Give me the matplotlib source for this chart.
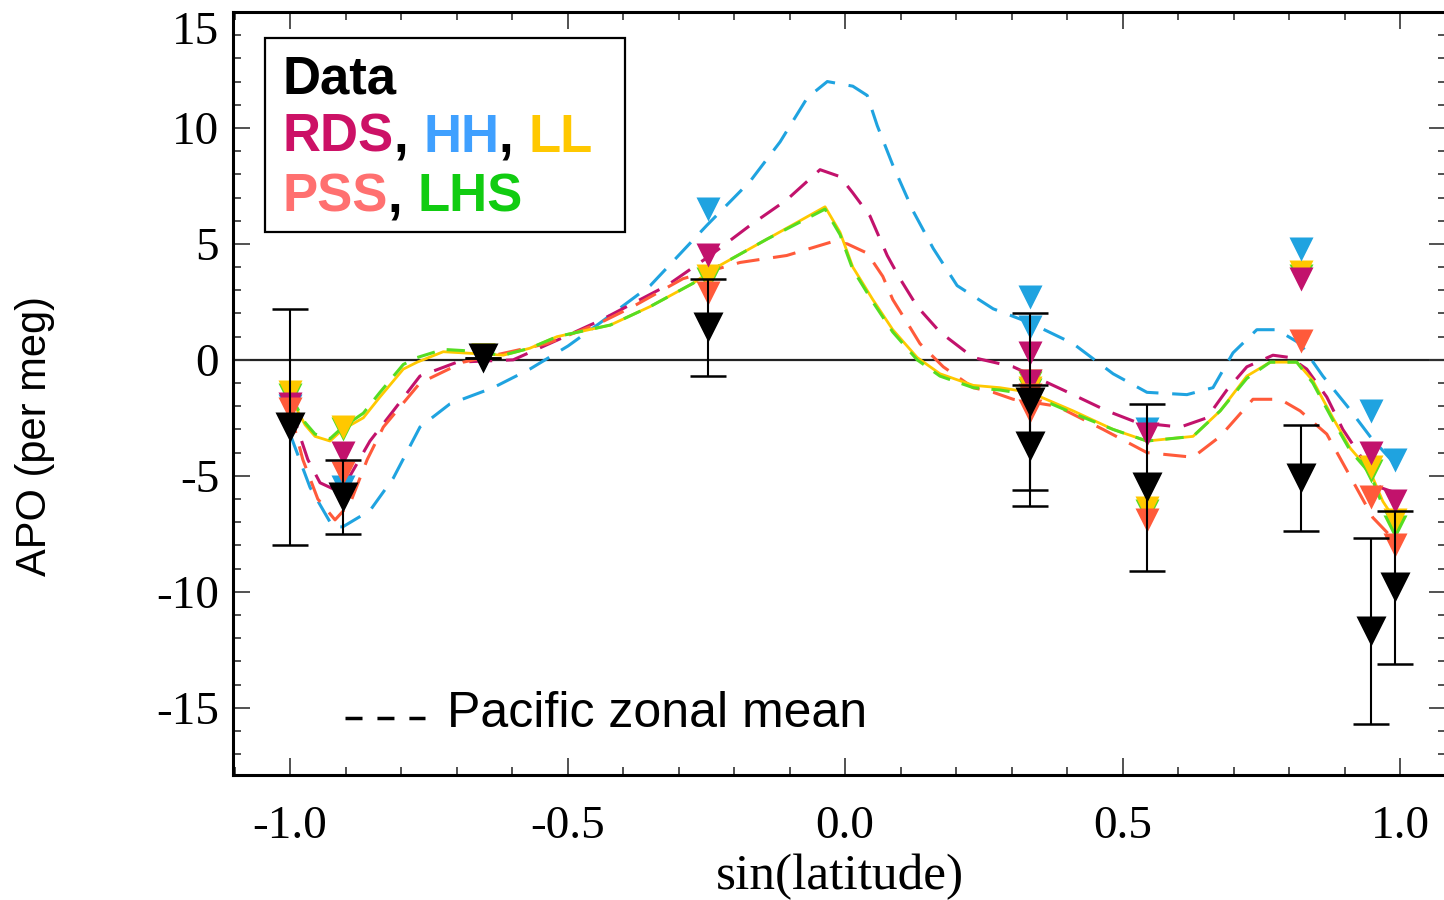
"""
APO vs sin(latitude): station data vs Pacific zonal mean of five models
"""
import numpy as np
import matplotlib; matplotlib.use('Agg')
import matplotlib.pyplot as plt
from matplotlib.ticker import MultipleLocator
from matplotlib.patches import Rectangle

plt.rcParams['axes.unicode_minus'] = False
SERIF = 'Liberation Serif'
SANS = 'Liberation Sans'

# ================ Model curves (Pacific zonal mean) ================
hh_x = [-1.0, -0.964, -0.923, -0.905, -0.856, -0.814, -0.766, -0.712, -0.634, -0.568, -0.499,
        -0.441, -0.351, -0.249, -0.171, -0.117, -0.068, -0.032, 0.014, 0.040, 0.058, 0.086,
        0.123, 0.159, 0.202, 0.267, 0.333, 0.411, 0.483, 0.544, 0.616, 0.663, 0.699, 0.742,
        0.778, 0.820, 0.861, 0.905, 0.946, 0.991]
hh_y = [-3.2, -5.5, -7.2, -7.2, -6.5, -5.1, -2.9, -1.9, -1.2, -0.4, 0.6,
        1.6, 3.2, 5.8, 7.7, 9.4, 11.3, 12.0, 11.8, 11.4, 10.1, 8.4,
        6.4, 4.8, 3.2, 2.2, 1.6, 0.7, -0.6, -1.4, -1.5, -1.2, 0.3, 1.3,
        1.3, 0.7, -0.7, -2.0, -3.3, -4.5]

rds_x = [-1.0, -0.968, -0.946, -0.919, -0.892, -0.856, -0.814, -0.766, -0.699, -0.598, -0.514,
         -0.441, -0.321, -0.243, -0.171, -0.105, -0.045, -0.009, 0.014, 0.045, 0.076, 0.099,
         0.130, 0.171, 0.231, 0.303, 0.393, 0.472, 0.526, 0.604, 0.652, 0.688, 0.724, 0.771,
         0.802, 0.832, 0.868, 0.897, 0.933, 0.964, 1.0]
rds_y = [-2.0, -4.3, -5.3, -5.6, -5.0, -3.5, -2.2, -0.7, -0.1, 0.0, 0.9,
         1.7, 3.2, 4.5, 5.8, 6.9, 8.2, 7.9, 7.2, 6.2, 4.5, 3.5,
         2.3, 1.2, 0.1, -0.3, -1.3, -2.2, -2.7, -2.9, -2.5, -1.3, -0.3, 0.2,
         0.1, -0.4, -1.6, -3.0, -4.3, -5.5, -5.8]

pss_x = [-1.0, -0.977, -0.950, -0.919, -0.892, -0.861, -0.832, -0.766, -0.688, -0.537, -0.441,
         -0.382, -0.292, -0.189, -0.105, -0.022, 0.004, 0.040, 0.068, 0.086, 0.112, 0.135,
         0.177, 0.231, 0.267, 0.303, 0.382, 0.465, 0.544, 0.627, 0.676, 0.735, 0.784, 0.820,
         0.868, 0.905, 0.951, 0.995]
pss_y = [-2.2, -4.3, -6.0, -6.9, -6.2, -4.3, -2.9, -1.0, -0.1, 0.7, 1.6,
         2.3, 3.5, 4.2, 4.5, 5.1, 5.0, 4.6, 3.6, 2.6, 1.6, 0.7,
         -0.3, -1.2, -1.4, -1.7, -2.0, -3.0, -4.0, -4.2, -3.3, -1.7, -1.7, -2.2,
         -3.2, -4.8, -6.8, -7.9]

ll_x = [-1.0, -0.973, -0.955, -0.928, -0.905, -0.868, -0.838, -0.796, -0.771, -0.724, -0.688,
        -0.616, -0.568, -0.519, -0.423, -0.351, -0.274, -0.231, -0.141, -0.036, -0.009, 0.014,
        0.050, 0.086, 0.130, 0.171, 0.231, 0.279, 0.333, 0.411, 0.483, 0.544, 0.627, 0.676,
        0.724, 0.766, 0.814, 0.843, 0.879, 0.910, 0.946, 0.969, 0.991]
ll_y = [-1.6, -2.8, -3.3, -3.5, -3.0, -2.5, -1.6, -0.4, -0.1, 0.35, 0.3,
        0.2, 0.5, 1.0, 1.5, 2.3, 3.3, 4.0, 5.2, 6.6, 5.5, 4.0,
        2.6, 1.3, 0.1, -0.6, -1.1, -1.2, -1.4, -2.2, -3.0, -3.5, -3.3, -2.2,
        -0.7, -0.1, -0.1, -0.9, -2.5, -3.8, -4.8, -6.1, -6.9]

lhs_x = [-1.0, -0.973, -0.955, -0.928, -0.905, -0.868, -0.838, -0.796, -0.771, -0.724, -0.688,
         -0.616, -0.568, -0.519, -0.423, -0.351, -0.274, -0.231, -0.141, -0.036, -0.009, 0.014,
         0.050, 0.086, 0.130, 0.171, 0.231, 0.279, 0.333, 0.411, 0.483, 0.544, 0.627, 0.676,
         0.724, 0.766, 0.814, 0.843, 0.879, 0.910, 0.946, 0.969, 0.991]
lhs_y = [-1.5, -2.7, -3.2, -3.4, -2.9, -2.3, -1.4, -0.2, 0.1, 0.45, 0.4,
         0.2, 0.5, 1.0, 1.5, 2.3, 3.3, 4.0, 5.2, 6.5, 5.4, 3.9,
         2.5, 1.2, 0.0, -0.7, -1.2, -1.3, -1.5, -2.3, -3.0, -3.5, -3.3, -2.2,
         -0.8, -0.1, -0.1, -1.0, -2.6, -3.9, -4.9, -6.3, -7.2]

# ================ Stations ================
stn_x = [-1.0, -0.905, -0.652, -0.247, 0.333, 0.333, 0.544, 0.822, 0.948, 0.991]
obs = [-2.9, -5.9, 0.1, 1.4, -1.8, -3.7, -5.5, -5.1, -11.7, -9.8]
obs_err = [5.1, 1.6, 0.0, 2.1, 3.8, 2.6, 3.6, 2.3, 4.0, 3.3]
hh_st = [-2.0, -5.5, 0.0, 6.5, 2.7, 1.4, -3.0, 4.8, -2.2, -4.3]
rds_st = [-1.9, -4.0, 0.1, 4.5, 0.3, -0.9, -3.2, 3.5, -4.0, -6.1]
ll_st = [-1.4, -2.9, 0.2, 3.6, -0.9, -1.2, -6.4, 3.8, -4.6, -6.9]
pss_st = [-2.1, -4.9, 0.1, 2.9, -1.5, -2.2, -6.9, 0.8, -5.9, -8.0]
lhs_st = [-1.5, -3.0, 0.2, 3.5, -1.0, -1.3, -6.5, 3.6, -4.8, -7.2]

C_HH, C_RDS, C_LL, C_PSS, C_LHS = '#1FA3E0', '#C2126C', '#FFC800', '#FF5A3A', '#55DD22'

# ================ Plot ================
fig = plt.figure(figsize=(14.44, 9), dpi=100)
ax = fig.add_axes([0.1614, 0.1389, 0.84, 0.8478])
ax.set_xlim(-1.1027, 1.0829)
ax.set_ylim(-17.9, 15.0)

ax.axhline(0, color='#222222', lw=1.6, zorder=1)

dash = dict(lw=2.2, dashes=(7.5, 4.5))
ax.plot(hh_x, hh_y, color=C_HH, **dash, zorder=2)
ax.plot(rds_x, rds_y, color=C_RDS, **dash, zorder=2)
ax.plot(pss_x, pss_y, color=C_PSS, **dash, zorder=2)
ax.plot(ll_x, ll_y, color=C_LL, lw=2.0, zorder=2)
ax.plot(lhs_x, lhs_y, color=C_LHS, lw=2.2, dashes=(6, 4), zorder=2)

ms = 17
for vals, c in [(lhs_st, C_LHS), (ll_st, C_LL), (hh_st, C_HH), (rds_st, C_RDS), (pss_st, C_PSS)]:
    ax.plot(stn_x, vals, 'v', color=c, ms=ms, mec='none', zorder=3)

ax.errorbar(stn_x, obs, yerr=obs_err, fmt='none', ecolor='black', elinewidth=1.5,
            capsize=13, capthick=1.8, zorder=4)
ax.plot(stn_x, obs, 'v', color='black', ms=22, mec='none', zorder=5)

# axes / ticks
for s in ['left', 'bottom', 'top']:
    ax.spines[s].set_linewidth(2.2)
ax.spines['right'].set_visible(False)
ax.xaxis.set_major_locator(MultipleLocator(0.5))
ax.xaxis.set_minor_locator(MultipleLocator(0.1))
ax.set_yticks([-15, -10, -5, 0, 5, 10, 15])
ax.yaxis.set_minor_locator(MultipleLocator(1))
ax.xaxis.set_major_formatter(plt.FuncFormatter(lambda v, p: '%.1f' % v))
ax.tick_params(which='both', direction='in', top=True, right=True, color='#333333', width=1.2)
ax.tick_params(which='major', length=12)
ax.tick_params(which='minor', length=6)
ax.tick_params(axis='x', which='major', pad=22, labelsize=34)
ax.tick_params(axis='y', which='major', pad=10, labelsize=34)
for lab in ax.get_xticklabels() + ax.get_yticklabels():
    lab.set_fontfamily(SERIF)
ax.yaxis.get_major_ticks()[-1].label1.set_verticalalignment('top')

ax.set_xlabel('sin(latitude)', fontfamily=SERIF, fontsize=37, labelpad=4)
fig.text(0.024, 0.5156, 'APO (per meg)', rotation=90, ha='center', va='center',
         fontfamily=SANS, fontsize=30)

# legend box
fig.patches.append(Rectangle((265/1444, 1-232/900), 360/1444, 194/900, transform=fig.transFigure,
                             fill=False, ec='black', lw=1.6))
fs = 38
fig.text(283/1444, 1-93/900, 'Data', color='black', fontfamily=SANS, fontweight='bold', fontsize=fs)

def chain_ann(parts, x, y):
    prev = fig.text(x, y, parts[0][0], color=parts[0][1], fontfamily=SANS,
                    fontweight='bold', fontsize=fs)
    for txt, col in parts[1:]:
        prev = ax.annotate(txt, xy=(1, 0), xycoords=prev, va='bottom', ha='left',
                           color=col, fontfamily=SANS, fontweight='bold', fontsize=fs,
                           annotation_clip=False)
    return prev

chain_ann([('RDS', '#CC1166'), (', ', 'black'), ('HH', '#3FA0FF'), (', ', 'black'), ('LL', '#FFC800')],
          283/1444, 1-152/900)
chain_ann([('PSS', '#FF7070'), (', ', 'black'), ('LHS', '#11CC11')], 283/1444, 1-212/900)

# pacific zonal mean key
ax.plot([(345-845)/555, (425-845)/555], [(360-718)/23.2]*2, color='black', lw=2.5,
        dashes=(4.9, 4.3), clip_on=False)
fig.text(447/1444, 1-727/900, 'Pacific zonal mean', color='black', fontfamily=SANS, fontsize=36)

fig.savefig('out.png', dpi=100)
